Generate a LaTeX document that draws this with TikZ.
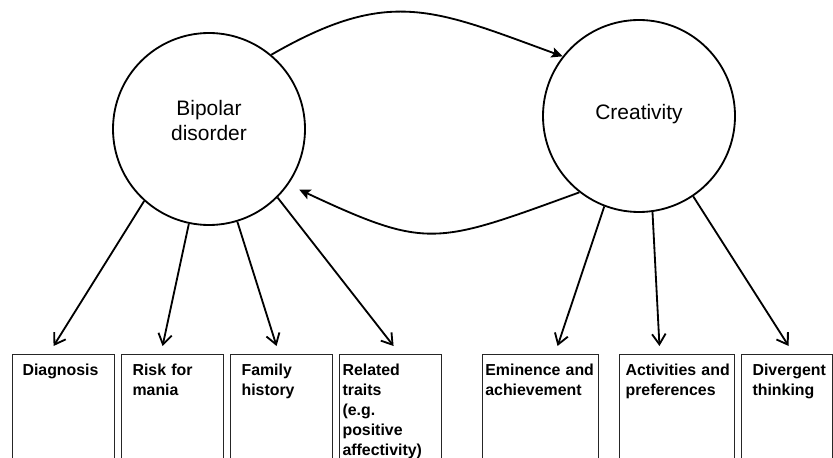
\documentclass[tikz,border=0pt]{standalone}
\usepackage{fontspec}
\setmainfont{Liberation Sans}
\usetikzlibrary{arrows.meta}

\begin{document}
\begin{tikzpicture}[
    blob/.style={circle, draw, line width=1.3pt, minimum size=4.8cm, inner sep=0pt},
    lab/.style={align=center, font=\fontsize{14.9}{17.8}\selectfont},
    cell/.style={draw=black!85, line width=0.8pt, anchor=north west, align=left,
      font=\fontsize{11.3}{14.2}\selectfont\bfseries,
      inner ysep=0.25cm, text height=0.285cm, text depth=3cm},
    down/.style={line width=1.3pt, -{Straight Barb[length=2.6mm,width=3.4mm]}},
    loop/.style={line width=1.3pt, -{Stealth[length=2.8mm,width=2.6mm,inset=0.6mm]}}
  ]

    \useasboundingbox (0,0) rectangle (20.825,11.425);
    \clip (0,0) rectangle (20.825,11.425);

    % the two constructs
    \node[blob, label={[lab,yshift=0.21cm]center:Bipolar\\disorder}] (bd) at (5.225,8.2) {};
    \node[blob, label={[lab,yshift=0.06cm]center:Creativity}] (cr) at (15.975,8.525) {};

    % measures
    \node[cell, inner xsep=0.25cm, text width=2.05cm] (diag) at (0.3,2.575) {Diagnosis};
    \node[cell, inner xsep=0.275cm, text width=2cm] (risk) at (3.025,2.575) {Risk for\\mania};
    \node[cell, inner xsep=0.275cm, text width=2cm] (fam) at (5.75,2.575) {Family\\history};
    \node[cell, inner xsep=0.075cm, text width=2.4cm] (rel) at (8.475,2.575) {Related\\traits\\(e.g.\\positive\\affectivity)};
    \node[cell, inner xsep=0.07cm, text width=2.76cm] (emi) at (12.05,2.575) {Eminence~and\\achievement};
    \node[cell, inner xsep=0.15cm, text width=2.575cm] (act) at (15.475,2.575) {Activities~and\\preferences};
    \node[cell, inner xsep=0.275cm, text width=1.725cm] (div) at (18.525,2.575) {Divergent\\thinking};

    \foreach \a/\b/\dx in {228/diag/-0.25, 258/risk/-0.25, 287/fam/-0.125, 315/rel/0.075}
      \draw[down] (bd.\a) -- ([shift={(\dx,0.2)}]\b.north);
    \foreach \a/\b/\dx in {249/emi/0.425, 278/act/-0.44, 304/div/0.04}
      \draw[down] (cr.\a) -- ([shift={(\dx,0.2)}]\b.north);

    \draw[loop] (bd.50) to[out=30, in=160, looseness=1.2] (cr.142);
    \draw[loop, shorten >=0.3cm] (cr.232) to[out=200, in=335, looseness=1.35] (bd.-35);
  \end{tikzpicture}
\end{document}
